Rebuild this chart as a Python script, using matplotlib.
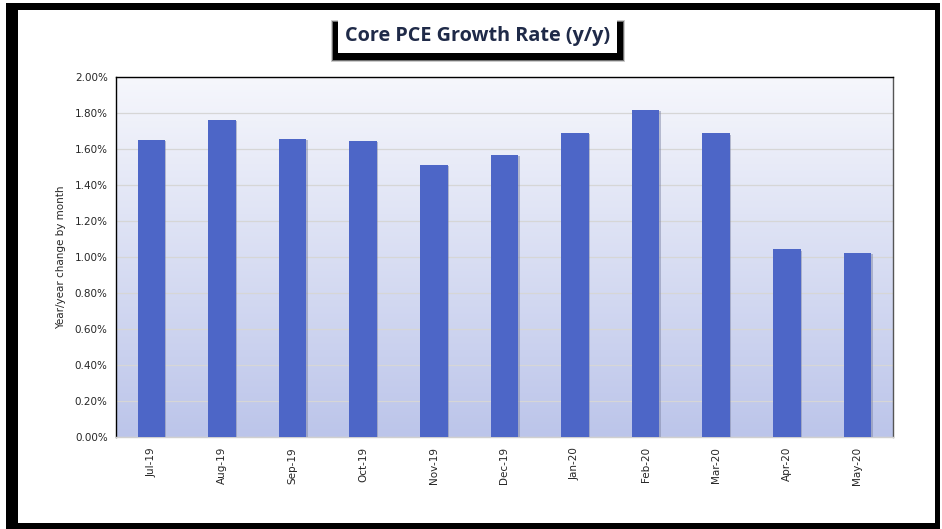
import numpy as np
import matplotlib
matplotlib.use("Agg")
import matplotlib.pyplot as plt
from matplotlib.patches import Rectangle
from matplotlib.ticker import FuncFormatter
import matplotlib.patheffects as pe

# data
months = ["Jul-19", "Aug-19", "Sep-19", "Oct-19", "Nov-19", "Dec-19",
          "Jan-20", "Feb-20", "Mar-20", "Apr-20", "May-20"]
core_pce = [1.652, 1.765, 1.659, 1.646, 1.513, 1.568,
            1.692, 1.820, 1.689, 1.044, 1.024]

W, H = 942, 529
fig = plt.figure(figsize=(W / 100, H / 100), dpi=100)
fig.patch.set_facecolor("white")

def px_rect(x0, y0, x1, y1, **kw):
    # rectangle given in pixel coords (origin top-left)
    return Rectangle((x0 / W, 1 - y1 / H), (x1 - x0) / W, (y1 - y0) / H,
                     transform=fig.transFigure, **kw)

# black frame round the chart
fig.patches.append(px_rect(6, 3, 940, 529, facecolor="black", edgecolor="none", zorder=-3))
fig.patches.append(px_rect(18, 10, 935, 523, facecolor="white", edgecolor="none", zorder=-2))

ax = fig.add_axes([116 / W, 1 - 437.3 / H, (892.7 - 116) / W, (437.3 - 77.3) / H])
ax.set_zorder(1)

# gradient background of the plot area
top = np.array([246, 247, 252]) / 255
bot = np.array([188, 197, 234]) / 255
t = np.linspace(0, 1, 256)[:, None]
grad = (top * (1 - t) + bot * t)[:, None, :]
ax.imshow(grad, extent=[0, 1, 0, 1], transform=ax.transAxes,
          aspect="auto", zorder=0)

x = np.arange(len(months))
bars = ax.bar(x, core_pce, width=0.39, color="#4d66c7", zorder=3)
for b in bars:
    b.set_path_effects([pe.SimplePatchShadow(offset=(1, -1), shadow_rgbFace="#7f86a6", alpha=0.5),
                        pe.Normal()])

ax.set_xlim(-0.5, len(months) - 0.5)
ax.set_ylim(0, 2.0)
ax.set_yticks(np.arange(0, 2.01, 0.2))
ax.yaxis.set_major_formatter(FuncFormatter(lambda v, p: f"{v:.2f}%"))
ax.grid(axis="y", color="#d6d6d6", linewidth=0.9, zorder=1)
ax.set_axisbelow(True)

ax.set_xticks(x)
ax.set_xticklabels(months, rotation=90, fontsize=7.5, color="#262626")
ax.tick_params(axis="y", labelsize=7.5, labelcolor="#262626", length=0, pad=6)
ax.tick_params(axis="x", length=0, pad=7)
ax.set_ylabel("Year/year change by month", fontsize=7.5, color="#262626", labelpad=6)

ax.spines["top"].set_color("black")
ax.spines["left"].set_color("black")
ax.spines["right"].set_color("#555555")
ax.spines["bottom"].set_color("#d0d0d0")
for s in ax.spines.values():
    s.set_linewidth(1.0)

# title box with dark shadow
for i, a in enumerate([0.2, 0.45, 1.0]):
    d = 2 - i
    fig.patches.append(px_rect(333 - d, 22 - d, 623 + d, 60 + d,
                               facecolor="black", edgecolor="none", alpha=a, zorder=5))
fig.patches.append(px_rect(338, 19, 617, 53, facecolor="white", edgecolor="none", zorder=6))
fig.text(477.5 / W, 1 - 36.5 / H, "Core PCE Growth Rate (y/y)", ha="center", va="center",
         fontsize=14.3, fontweight="bold", color="#1f2a48", family="Open Sans", zorder=7)

fig.savefig("out.png", dpi=100)
